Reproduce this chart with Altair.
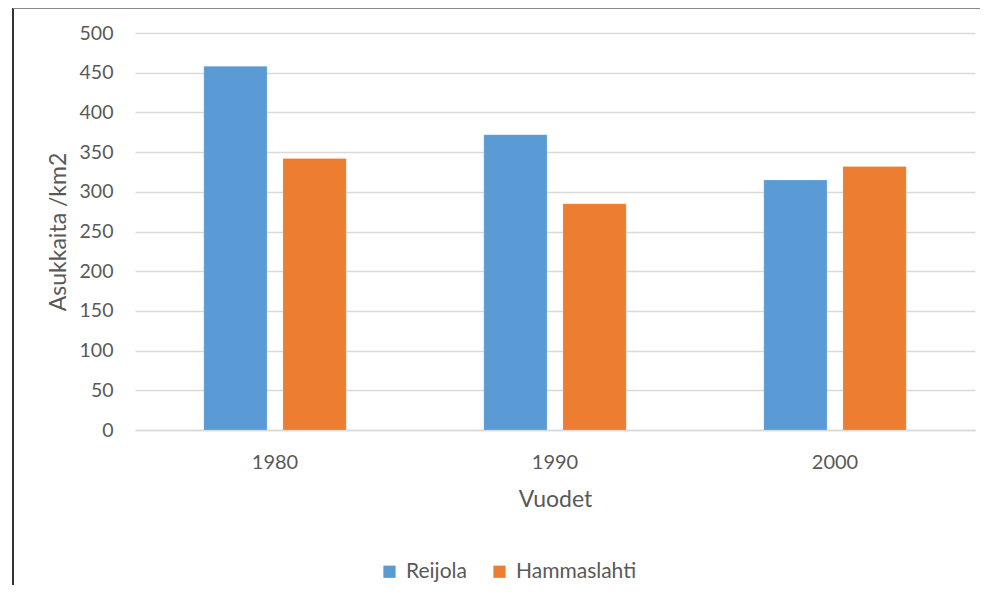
import altair as alt
import pandas as pd

years = ["1980", "1990", "2000"]
series = ["Reijola", "Hammaslahti"]
reijola = [458, 372, 315]
hammaslahti = [342, 285, 332]
colors = ["#5B9BD5", "#ED7D31"]

rows = []
for i, y in enumerate(years):
    rows.append({"Vuosi": y, "Alue": series[0], "Arvo": reijola[i]})
    rows.append({"Vuosi": y, "Alue": series[1], "Arvo": hammaslahti[i]})
df = pd.DataFrame(rows)

FONT = "Lato"
GRAY = "#595959"

bars = alt.Chart(df).mark_bar(stroke="white", strokeWidth=0.5, strokeOpacity=0.4).encode(
    x=alt.X("Vuosi:N", sort=years,
            scale=alt.Scale(paddingInner=0, paddingOuter=0),
            axis=alt.Axis(title="Vuodet", labelAngle=0, ticks=False, domain=True,
                          grid=False,
                          domainColor="#d9d9d9", domainWidth=1.5,
                          labelFontSize=20, labelColor=GRAY, labelFont=FONT,
                          labelPadding=22, titleFontSize=23, titleColor=GRAY,
                          titleFont=FONT, titleFontWeight="normal", titlePadding=16)),
    xOffset=alt.XOffset("Alue:N", sort=series,
                        scale=alt.Scale(paddingInner=0.2, paddingOuter=0.87)),
    y=alt.Y("Arvo:Q", scale=alt.Scale(domain=[0, 500]),
            axis=alt.Axis(title="Asukkaita /km2", values=list(range(0, 501, 50)),
                          ticks=False, domain=False, grid=True,
                          gridColor="#d9d9d9", gridWidth=1.5,
                          labelFontSize=19.5, labelColor=GRAY, labelFont=FONT,
                          labelPadding=22, titleFontSize=23, titleColor=GRAY,
                          titleFont=FONT, titleFontWeight="normal", titlePadding=9)),
    color=alt.Color("Alue:N", sort=series,
                    scale=alt.Scale(domain=series, range=colors),
                    legend=alt.Legend(title=None, orient="none", direction="horizontal",
                                      legendX=244, legendY=528,
                                      symbolType="square", symbolSize=150,
                                      symbolStrokeWidth=0, symbolOpacity=1,
                                      labelFontSize=21, labelColor=GRAY, labelFont=FONT,
                                      columnPadding=22, labelOffset=6)),
)

border_left = alt.Chart(df).mark_rule(color="#333333", strokeWidth=1.2).encode(
    x=alt.value(-122), y=alt.value(-25), y2=alt.value(552)
)
border_top = alt.Chart(df).mark_rule(color="#888888", strokeWidth=1.2).encode(
    x=alt.value(-122), x2=alt.value(845), y=alt.value(-24.5)
)

chart = alt.layer(bars, border_left, border_top).properties(
    width=840, height=397,
    background="white",
    padding={"left": 127, "top": 25, "right": 5, "bottom": 155},
    autosize=alt.AutoSizeParams(type="none"),
).configure_view(stroke="transparent", strokeWidth=0)

chart.save("out.html", embed_options={"renderer": "svg", "actions": False})
